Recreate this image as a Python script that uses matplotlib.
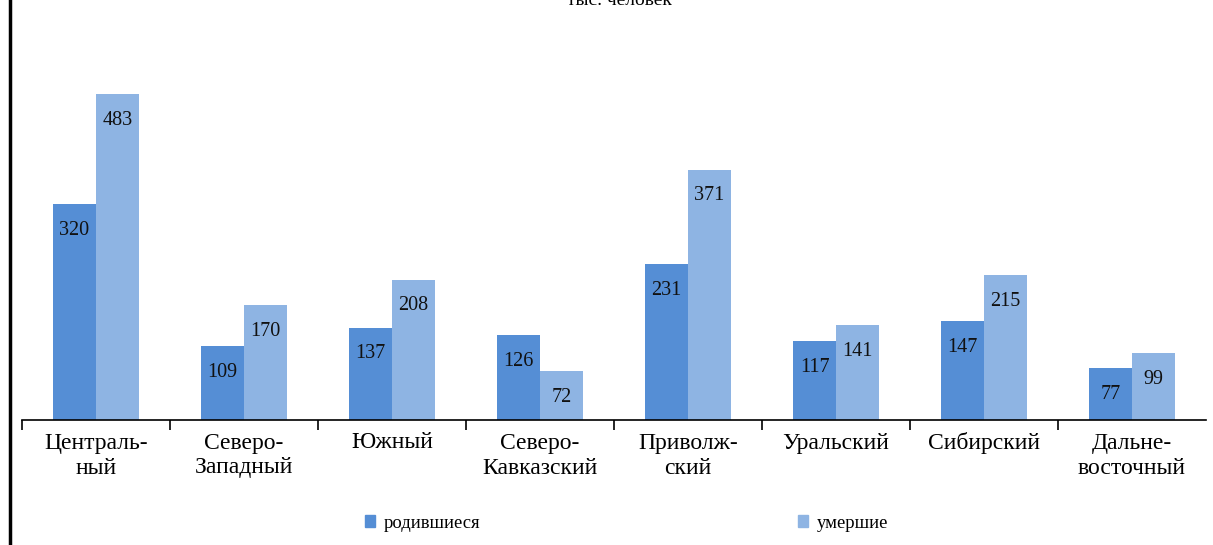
import matplotlib.pyplot as plt
import numpy as np
from matplotlib.lines import Line2D
from matplotlib.patches import Patch

regions = ["Централь-\nный", "Северо-\nЗападный", "Южный", "Северо-\nКавказский",
           "Приволж-\nский", "Уральский", "Сибирский", "Дальне-\nвосточный"]
born = [320, 109, 137, 126, 231, 117, 147, 77]
died = [483, 170, 208, 72, 371, 141, 215, 99]

c_born = "#558ED5"
c_died = "#8EB4E3"

plt.rcParams['font.family'] = ['Liberation Serif', 'DejaVu Serif']

W, H = 1213, 545
fig = plt.figure(figsize=(W / 100, H / 100), dpi=100)
# axes: x from 22 to 1206 px, zero line at y=420, 0.675 px per unit
top_px = 420 - 500 * 0.675
ax = fig.add_axes([22 / W, (H - 420) / H, 1184 / W, (420 - top_px) / H])

x = np.arange(len(regions))
w = 0.29
b1 = ax.bar(x - w / 2, born, w, color=c_born, label="родившиеся")
b2 = ax.bar(x + w / 2, died, w, color=c_died, label="умершие")

for bars, vals in ((b1, born), (b2, died)):
    for rect, v in zip(bars, vals):
        ax.annotate(str(v), (rect.get_x() + rect.get_width() / 2, v),
                    xytext=(0, -19), textcoords="offset points",
                    ha="center", va="center", fontsize=14.5, color="#111111")

ax.set_xlim(-0.5, len(regions) - 0.5)
ax.set_ylim(0, 500)
ax.set_yticks([])
for s in ("left", "right", "top"):
    ax.spines[s].set_visible(False)
ax.spines["bottom"].set_linewidth(1.2)

ax.set_xticks(x)
ax.set_xticklabels(regions, fontsize=17, linespacing=1.25)
ax.tick_params(axis="x", which="major", length=0, pad=9)
ax.set_xticks(np.arange(len(regions)) - 0.5, minor=True)
ax.tick_params(axis="x", which="minor", length=7, width=1.2, direction="out")

# left border line
fig.add_artist(Line2D([9.5 / W, 9.5 / W], [0, 1], color="black", linewidth=2.5,
                      transform=fig.transFigure))

fig.text(619 / W, 1 - 5 / H, "тыс. человек", ha="center", va="baseline", fontsize=14)

fig.legend(handles=[Patch(color=c_born)], labels=["родившиеся"],
           loc="center left", bbox_to_anchor=(348 / W, 1 - 523 / H),
           frameon=False, fontsize=13.4, handlelength=0.55, handleheight=0.55,
           handletextpad=0.45)
fig.legend(handles=[Patch(color=c_died)], labels=["умершие"],
           loc="center left", bbox_to_anchor=(781 / W, 1 - 523 / H),
           frameon=False, fontsize=13.4, handlelength=0.55, handleheight=0.55,
           handletextpad=0.45)

fig.savefig("out.png", dpi=100)
